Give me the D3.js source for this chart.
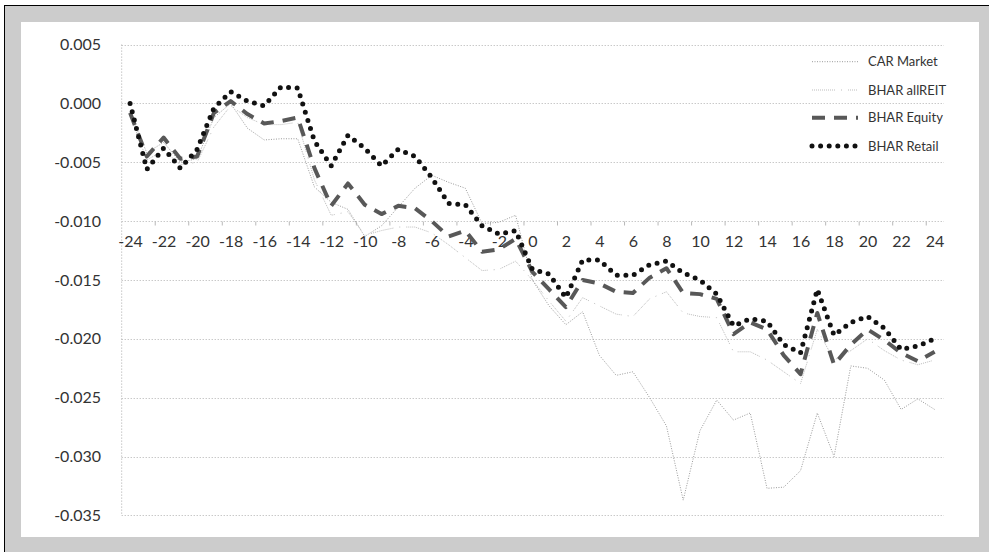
<!DOCTYPE html>
<html><head><meta charset="utf-8">
<script src="https://cdn.jsdelivr.net/npm/d3@7"></script>
<style>html,body{margin:0;padding:0;background:#fff;}svg{display:block;}</style>
</head><body>
<script>
const categories = [-24,-23,-22,-21,-20,-19,-18,-17,-16,-15,-14,-13,-12,-11,-10,-9,-8,-7,-6,-5,-4,-3,-2,-1,0,1,2,3,4,5,6,7,8,9,10,11,12,13,14,15,16,17,18,19,20,21,22,23,24];
const xTickLabels = [-24,-22,-20,-18,-16,-14,-12,-10,-8,-6,-4,-2,0,2,4,6,8,10,12,14,16,18,20,22,24];
const yTicks = [0.005,0.000,-0.005,-0.010,-0.015,-0.020,-0.025,-0.030,-0.035];
const seriesNames = ["CAR Market","BHAR allREIT","BHAR Equity","BHAR Retail"];

const carMarket = [-0.0008,-0.0042,-0.0033,-0.0050,-0.0047,-0.0012,0.0000,-0.0021,-0.0031,-0.0030,-0.0030,-0.0071,-0.0084,-0.0090,-0.0113,-0.0104,-0.0088,-0.0072,-0.0061,-0.0067,-0.0072,-0.0102,-0.0101,-0.0095,-0.0150,-0.0172,-0.0188,-0.0177,-0.0214,-0.0231,-0.0228,-0.0250,-0.0274,-0.0337,-0.0278,-0.0252,-0.0269,-0.0263,-0.0327,-0.0326,-0.0312,-0.0263,-0.0300,-0.0223,-0.0225,-0.0235,-0.0260,-0.0251,-0.0260];
const bharAllREIT = [-0.0010,-0.0048,-0.0040,-0.0052,-0.0050,-0.0020,-0.0002,-0.0012,-0.0018,-0.0018,-0.0016,-0.0065,-0.0095,-0.0092,-0.0112,-0.0108,-0.0105,-0.0105,-0.0110,-0.0120,-0.0131,-0.0142,-0.0141,-0.0134,-0.0150,-0.0168,-0.0185,-0.0165,-0.0172,-0.0179,-0.0181,-0.0166,-0.0160,-0.0178,-0.0181,-0.0182,-0.0211,-0.0211,-0.0218,-0.0228,-0.0238,-0.0192,-0.0218,-0.0210,-0.0200,-0.0210,-0.0218,-0.0222,-0.0218];
const bharEquity = [-0.0008,-0.0045,-0.0029,-0.0047,-0.0045,-0.0008,0.0002,-0.0009,-0.0017,-0.0015,-0.0012,-0.0055,-0.0087,-0.0068,-0.0086,-0.0094,-0.0087,-0.0089,-0.0100,-0.0113,-0.0108,-0.0126,-0.0124,-0.0115,-0.0143,-0.0158,-0.0173,-0.0150,-0.0153,-0.0160,-0.0161,-0.0148,-0.0140,-0.0161,-0.0162,-0.0166,-0.0196,-0.0186,-0.0192,-0.0214,-0.0230,-0.0178,-0.0222,-0.0205,-0.0192,-0.0201,-0.0212,-0.0219,-0.0211];
const bharRetail = [0.0000,-0.0056,-0.0038,-0.0055,-0.0039,-0.0004,0.0010,0.0002,-0.0002,0.0014,0.0013,-0.0032,-0.0053,-0.0027,-0.0038,-0.0053,-0.0039,-0.0045,-0.0063,-0.0085,-0.0086,-0.0104,-0.0111,-0.0108,-0.0141,-0.0145,-0.0165,-0.0133,-0.0133,-0.0146,-0.0146,-0.0137,-0.0134,-0.0144,-0.0150,-0.0162,-0.0189,-0.0183,-0.0185,-0.0205,-0.0212,-0.0158,-0.0197,-0.0186,-0.0181,-0.0191,-0.0209,-0.0206,-0.0200];

const W = 989, H = 552;
const svg = d3.select("body").append("svg").attr("width", W).attr("height", H);
const font = "Lato, 'Open Sans', sans-serif";

// frame
svg.append("rect").attr("x",0).attr("y",0).attr("width",W).attr("height",H).attr("fill","#ffffff");
svg.append("rect").attr("x",4).attr("y",5).attr("width",W-4).attr("height",H-5).attr("fill","#cccccc");
svg.append("line").attr("x1",4.5).attr("x2",4.5).attr("y1",5).attr("y2",H).attr("stroke","#000").attr("stroke-width",1);
svg.append("line").attr("x1",4).attr("x2",W).attr("y1",5.5).attr("y2",5.5).attr("stroke","#000").attr("stroke-width",1);
svg.append("rect").attr("x",21).attr("y",22).attr("width",958).attr("height",515).attr("fill","#ffffff");

const plotL = 121.7, plotR = 943;
const x = d3.scalePoint().domain(categories).range([plotL, plotR]).padding(0.5);
const y = d3.scaleLinear().domain([0.005, -0.035]).range([44.6, 515.4]);
const step = x.step();

// gridlines
const grid = svg.append("g");
grid.selectAll("line").data(yTicks).join("line")
  .attr("x1", plotL).attr("x2", plotR + 1)
  .attr("y1", d => Math.round(y(d)) + 0.5).attr("y2", d => Math.round(y(d)) + 0.5)
  .attr("stroke", "#b0b0b0").attr("stroke-width", 1).attr("stroke-dasharray", "1,2");

// y axis line
svg.append("line").attr("x1", plotL).attr("x2", plotL)
  .attr("y1", y(0.005)).attr("y2", y(-0.035))
  .attr("stroke", "#a8a8a8").attr("stroke-width", 1).attr("stroke-dasharray", "1,2");

// y labels
const yAxis = d3.axisLeft(y).tickValues(yTicks).tickFormat(d3.format(".3f")).tickSize(0).tickPadding(0);
const gy = svg.append("g").attr("transform", `translate(101,0)`).call(yAxis);
gy.select(".domain").remove();
gy.selectAll("text").attr("font-family", font).attr("font-size", 16).attr("fill", "#333")
  .text(d => d3.format(".3f")(d).replace("−", "-"));

// x axis at -0.010: tick marks at every second category boundary
const axisY = Math.round(y(-0.010)) + 0.5;
const tickBounds = d3.range(2, categories.length, 2);
svg.append("g").selectAll("line").data(tickBounds).join("line")
  .attr("x1", b => plotL + b * step).attr("x2", b => plotL + b * step)
  .attr("y1", axisY).attr("y2", axisY + 4)
  .attr("stroke", "#b8b8b8").attr("stroke-width", 1);

const xAxis = d3.axisBottom(x).tickValues(xTickLabels).tickSize(0).tickPadding(0).tickFormat(d => String(d));
const gx = svg.append("g").attr("transform", `translate(0,${axisY + 14})`).call(xAxis);
gx.select(".domain").remove();
gx.selectAll("text").attr("font-family", font).attr("font-size", 16).attr("fill", "#333");

// series
const reitDash = "1,1,1,1,1,1,1,1,1,1,1,1,1,1,1,1,1,1,1,1,1,1,1,6,1,6";
const styles = [
  {data: carMarket, stroke: "#9a9a9a", width: 1, dash: "1,1.5", cap: "butt"},
  {data: bharAllREIT, stroke: "#bdbdbd", width: 1, dash: reitDash, cap: "butt"},
  {data: bharEquity, stroke: "#585858", width: 4, dash: "13,9", cap: "butt"},
  {data: bharRetail, stroke: "#111111", width: 5, dash: "0,8.6", cap: "round"}
];
const line = d3.line().x((d, i) => x(categories[i])).y(d => y(d));
styles.forEach(s => {
  svg.append("path").datum(s.data).attr("d", line)
    .attr("fill", "none").attr("stroke", s.stroke).attr("stroke-width", s.width)
    .attr("stroke-dasharray", s.dash).attr("stroke-linecap", s.cap).attr("stroke-linejoin", "round");
});

// legend
const legY = [61.7, 90, 117.7, 146];
const lg = svg.append("g");
seriesNames.forEach((n, i) => {
  const s = styles[i];
  lg.append("line").attr("x1", 812).attr("x2", 858).attr("y1", legY[i]).attr("y2", legY[i])
    .attr("stroke", s.stroke).attr("stroke-width", s.width).attr("stroke-dasharray", s.dash)
    .attr("stroke-linecap", s.cap);
  lg.append("text").attr("x", 868).attr("y", legY[i]).attr("dy", "0.35em")
    .attr("font-family", font).attr("font-size", 13).attr("fill", "#333").text(n);
});
</script>
</body></html>
